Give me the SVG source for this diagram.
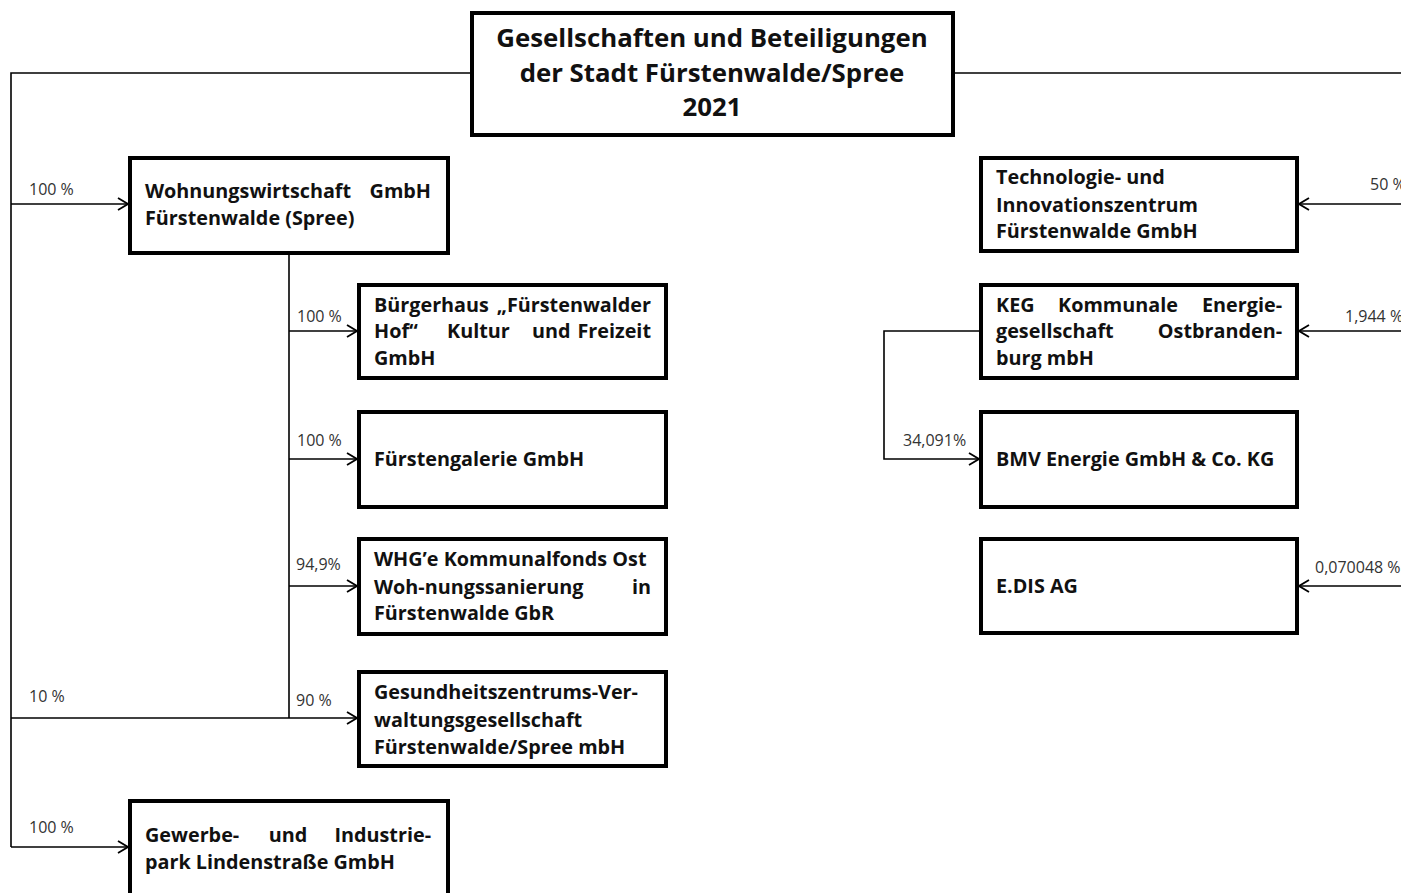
<svg xmlns="http://www.w3.org/2000/svg" width="1401" height="893" viewBox="0 0 1401 893">
<defs>
<marker id="arr" markerWidth="12" markerHeight="14" refX="11" refY="7" orient="auto" markerUnits="userSpaceOnUse">
<path d="M1,1 L11,7 L1,13" fill="none" stroke="#000" stroke-width="1.8"/>
</marker>
<style>
.box{fill:#fff;stroke:#000;stroke-width:4}
.ln{fill:none;stroke:#000;stroke-width:1.6}
.t{font-family:"Open Sans","Liberation Sans",sans-serif;font-weight:bold;font-size:19.8px;fill:#111}
.ttl{font-family:"Open Sans","Liberation Sans",sans-serif;font-weight:bold;font-size:25.8px;fill:#111;text-anchor:middle}
.lb{font-family:"Open Sans","Liberation Sans",sans-serif;font-size:16px;fill:#333}
.e{text-anchor:end}
.m{text-anchor:middle}
</style>
</defs>
<rect width="1401" height="893" fill="#fff"/>
<g id="connectors">
<path class="ln" d="M472,73 H11 V847"/>
<path class="ln" d="M953,73 H1401"/>
<path class="ln" d="M11,204 H128" marker-end="url(#arr)"/>
<path class="ln" d="M289,254 V718"/>
<path class="ln" d="M289,331 H357" marker-end="url(#arr)"/>
<path class="ln" d="M289,459 H357" marker-end="url(#arr)"/>
<path class="ln" d="M289,586 H357" marker-end="url(#arr)"/>
<path class="ln" d="M11,718 H357" marker-end="url(#arr)"/>
<path class="ln" d="M11,847 H128" marker-end="url(#arr)"/>
<path class="ln" d="M1401,204 H1299" marker-end="url(#arr)"/>
<path class="ln" d="M1401,331 H1299" marker-end="url(#arr)"/>
<path class="ln" d="M1401,586 H1299" marker-end="url(#arr)"/>
<path class="ln" d="M979,331 H884 V459 H979" marker-end="url(#arr)"/>
<text class="lb" x="29" y="195">100 %</text>
<text class="lb" x="297" y="322">100 %</text>
<text class="lb" x="297" y="446">100 %</text>
<text class="lb" x="296" y="570">94,9%</text>
<text class="lb" x="296" y="706">90 %</text>
<text class="lb" x="29" y="702">10 %</text>
<text class="lb" x="29" y="833">100 %</text>
<text class="lb" x="1370" y="190">50 %</text>
<text class="lb" x="1345" y="322">1,944 %</text>
<text class="lb" x="903" y="446">34,091%</text>
<text class="lb" x="1315" y="573">0,070048 %</text>
</g>
<g id="title">
<rect class="box" x="472" y="13" width="481" height="122"/>
<text class="ttl" x="712" y="47">Gesellschaften und Beteiligungen</text>
<text class="ttl" x="712" y="82">der Stadt Fürstenwalde/Spree</text>
<text class="ttl" x="712" y="116">2021</text>
</g>
<g id="wohnungswirtschaft">
<rect class="box" x="130" y="158" width="318" height="95"/>
<text class="t" x="145" y="198">Wohnungswirtschaft</text>
<text class="t e" x="431" y="198">GmbH</text>
<text class="t" x="145" y="225">Fürstenwalde (Spree)</text>
</g>
<g id="buergerhaus">
<rect class="box" x="359" y="285" width="307" height="93"/>
<text class="t" x="374" y="312">Bürgerhaus</text>
<text class="t e" x="651" y="312">„Fürstenwalder</text>
<text class="t" x="374" y="338">Hof“</text>
<text class="t" x="447" y="338">Kultur</text>
<text class="t" x="532" y="338">und</text>
<text class="t e" x="651" y="338">Freizeit</text>
<text class="t" x="374" y="365">GmbH</text>
</g>
<g id="fuerstengalerie">
<rect class="box" x="359" y="412" width="307" height="95"/>
<text class="t" x="374" y="466">Fürstengalerie GmbH</text>
</g>
<g id="whg">
<rect class="box" x="359" y="539" width="307" height="95"/>
<text class="t" x="374" y="566">WHG’e Kommunalfonds Ost</text>
<text class="t" x="374" y="594">Woh-nungssanierung</text>
<text class="t e" x="651" y="594">in</text>
<text class="t" x="374" y="620">Fürstenwalde GbR</text>
</g>
<g id="gesundheitszentrum">
<rect class="box" x="359" y="672" width="307" height="94"/>
<text class="t" x="374" y="699">Gesundheitszentrums-Ver-</text>
<text class="t" x="374" y="727">waltungsgesellschaft</text>
<text class="t" x="374" y="754">Fürstenwalde/Spree mbH</text>
</g>
<g id="gewerbepark">
<rect class="box" x="130" y="801" width="318" height="110"/>
<text class="t" x="145" y="842">Gewerbe-</text>
<text class="t m" x="288" y="842">und</text>
<text class="t e" x="431" y="842">Industrie-</text>
<text class="t" x="145" y="869">park Lindenstraße GmbH</text>
</g>
<g id="technologiezentrum">
<rect class="box" x="981" y="158" width="316" height="93"/>
<text class="t" x="996" y="184">Technologie- und</text>
<text class="t" x="996" y="212">Innovationszentrum</text>
<text class="t" x="996" y="238">Fürstenwalde GmbH</text>
</g>
<g id="keg">
<rect class="box" x="981" y="285" width="316" height="93"/>
<text class="t" x="996" y="312">KEG</text>
<text class="t m" x="1118" y="312">Kommunale</text>
<text class="t e" x="1282" y="312">Energie-</text>
<text class="t" x="996" y="338">gesellschaft</text>
<text class="t e" x="1282" y="338">Ostbranden-</text>
<text class="t" x="996" y="365">burg mbH</text>
</g>
<g id="bmv">
<rect class="box" x="981" y="412" width="316" height="95"/>
<text class="t" x="996" y="466">BMV Energie GmbH &amp; Co. KG</text>
</g>
<g id="edis">
<rect class="box" x="981" y="539" width="316" height="94"/>
<text class="t" x="996" y="593">E.DIS AG</text>
</g>
</svg>
